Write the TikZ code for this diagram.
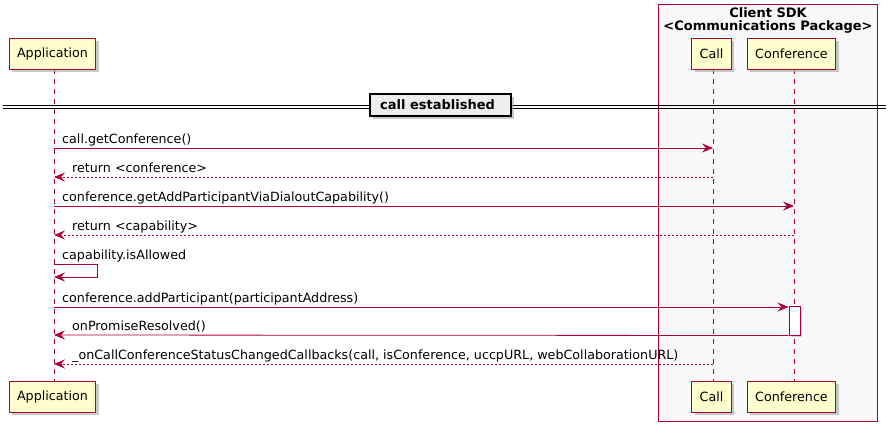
\documentclass[tikz,border=0pt]{standalone}
\usepackage{fontspec}
\setmainfont{DejaVu Sans}
\usetikzlibrary{arrows.meta,shadows}
\definecolor{pborder}{HTML}{A80036}
\definecolor{pfill}{HTML}{FEFECE}
\definecolor{gfill}{HTML}{F8F8F8}
\definecolor{dfill}{HTML}{EEEEEE}
\tikzset{
  part/.style={draw=pborder, fill=pfill, line width=1pt, minimum height=31pt, inner xsep=8pt, font=\fontsize{12.7}{15}\selectfont,
    drop shadow={shadow xshift=3pt, shadow yshift=-3pt, fill=black!35, opacity=0.6}},
  life/.style={draw=pborder, line width=0.8pt, dash pattern=on 5pt off 5pt},
  msg/.style={draw=pborder, line width=0.8pt, -{Stealth[length=11pt,width=9pt,inset=4pt]}},
  ret/.style={msg, dash pattern=on 2pt off 2pt},
  lbl/.style={anchor=base west, inner sep=0pt, font=\fontsize{12.7}{15}\selectfont},
  grptitle/.style={font=\bfseries\fontsize{13}{15}\selectfont, align=center, inner sep=0pt},
  divlbl/.style={draw=black, fill=dfill, line width=1.5pt, minimum width=141pt, minimum height=22pt, inner sep=0pt,
    font=\bfseries\fontsize{13}{15}\selectfont,
    drop shadow={shadow xshift=3pt, shadow yshift=-3pt, fill=black!35, opacity=0.6}},
  actbox/.style={draw=pborder, fill=white, line width=1pt, minimum width=11pt, minimum height=29pt, inner sep=0pt}
}
\begin{document}
\begin{tikzpicture}[x=1pt,y=-1pt]
\useasboundingbox (0,0) rectangle (889,432);
% group box
\draw[pborder, fill=gfill, line width=1pt] (658,4) rectangle (877,421);
\node[grptitle] (gt) at (768,20) {Client SDK\\[-2pt]<Communications Package>};
% lifelines
\coordinate (appT) at (54,69); \coordinate (appB) at (54,381);
\coordinate (callT) at (713,69); \coordinate (callB) at (713,381);
\coordinate (confT) at (794,69); \coordinate (confB) at (794,381);
\draw[life] (appT) -- (appB);
\draw[life] (callT) -- (callB);
\draw[life] (confT) -- (confB);
% participants
\node[part] (app) at (52.5,53.5) {Application};
\node[part] (call) at (711.5,53.5) {Call};
\node[part] (conf) at (791.5,53.5) {Conference};
\node[part] (app2) at (52.5,396.5) {Application};
\node[part] (call2) at (711.5,396.5) {Call};
\node[part] (conf2) at (791.5,396.5) {Conference};
% divider
\coordinate (dl1) at (3,105); \coordinate (dr1) at (886,105);
\coordinate (dl2) at (3,108.5); \coordinate (dr2) at (886,108.5);
\draw[line width=1pt] (dl1) -- (dr1);
\draw[line width=1pt] (dl2) -- (dr2);
\node[divlbl] (div) at (440.5,105) {\hspace*{-6pt}call established};
% activation
\node[actbox, drop shadow={shadow xshift=2pt, shadow yshift=-2pt, fill=black!30, opacity=0.5}] (act) at (794.5,320.5) {};
% messages
\coordinate (m1a) at (54,148); \coordinate (m1b) at (713,148);
\draw[msg] (m1a) -- (m1b);
\node[lbl] (t1) at (62,143) {call.getConference()};
\coordinate (m2a) at (713,177); \coordinate (m2b) at (54,177);
\draw[ret] (m2a) -- (m2b);
\node[lbl] (t2) at (72,172) {return <conference>};
\coordinate (m3a) at (54,206); \coordinate (m3b) at (794,206);
\draw[msg] (m3a) -- (m3b);
\node[lbl] (t3) at (62,201) {conference.getAddParticipantViaDialoutCapability()};
\coordinate (m4a) at (794,235); \coordinate (m4b) at (54,235);
\draw[ret] (m4a) -- (m4b);
\node[lbl] (t4) at (72,230) {return <capability>};
\coordinate (m5a) at (54,264); \coordinate (m5c) at (54,277);
\draw[msg] (m5a) -- (97,264) -- (97,277) -- (m5c);
\node[lbl] (t5) at (62,259) {capability.isAllowed};
\coordinate (m6a) at (54,307);
\draw[msg] (m6a) -- (act.north west |- m6a);
\node[lbl] (t6) at (62,302) {conference.addParticipant(participantAddress)};
\coordinate (m7b) at (54,335);
\draw[msg] (act.south west) -- (m7b);
\node[lbl] (t7) at (72,330) {onPromiseResolved()};
\coordinate (m8a) at (713,364); \coordinate (m8b) at (54,364);
\draw[ret] (m8a) -- (m8b);
\node[lbl] (t8) at (72,359) {\_onCallConferenceStatusChangedCallbacks(call, isConference, uccpURL, webCollaborationURL)};
\end{tikzpicture}
\end{document}
